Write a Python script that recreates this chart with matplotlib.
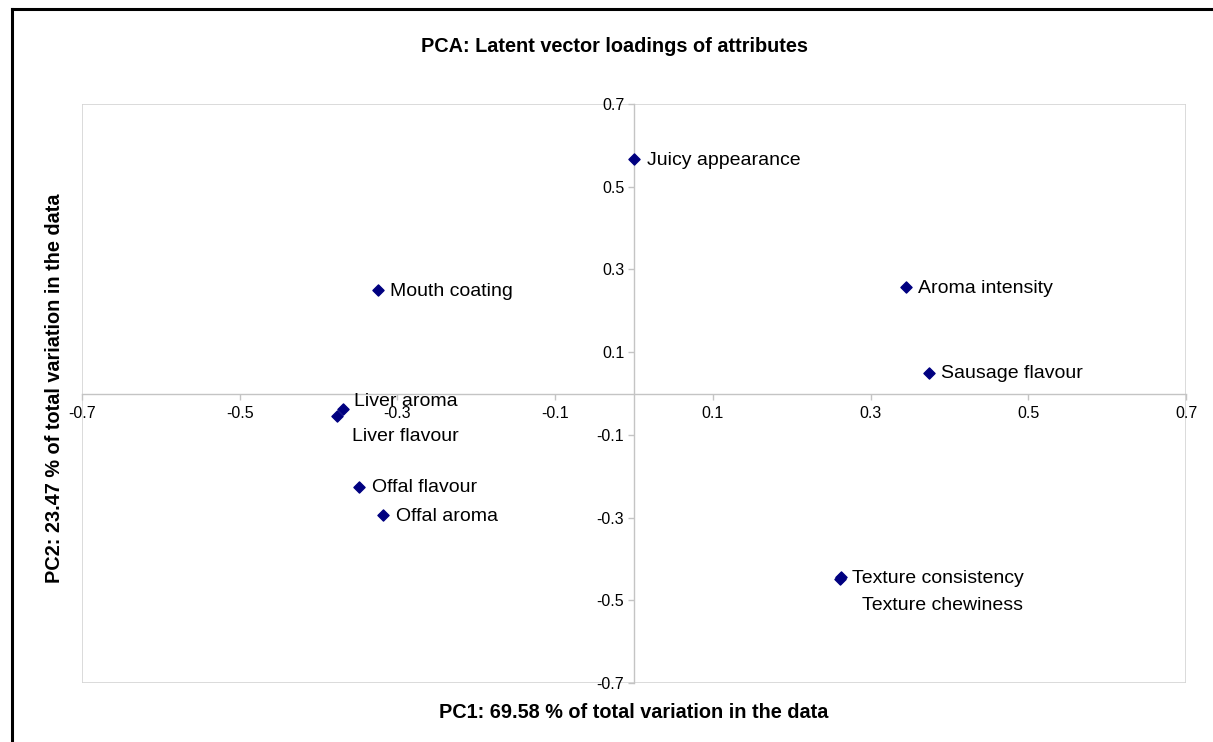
import matplotlib.pyplot as plt
from matplotlib.patches import Rectangle
from matplotlib.lines import Line2D

plt.rcParams['font.family'] = ['Liberation Sans', 'DejaVu Sans']

# PCA loadings
attributes = ["Juicy appearance", "Mouth coating", "Aroma intensity", "Sausage flavour",
              "Liver aroma", "Liver flavour", "Offal flavour", "Offal aroma",
              "Texture consistency", "Texture chewiness"]
pc1 = [0.000, -0.325, 0.345, 0.374, -0.369, -0.377, -0.349, -0.318, 0.262, 0.261]
pc2 = [0.567, 0.250, 0.257, 0.050, -0.037, -0.054, -0.226, -0.294, -0.444, -0.449]

# label offsets in pixels (Excel placed some labels away from the marker)
label_offsets = [(13, -1), (12, -1), (12, -1), (12, -1), (11, 7), (15, -21),
                 (13, -1), (13, -1), (11, -1), (22, -26)]

ticks = [-0.7, -0.5, -0.3, -0.1, 0.1, 0.3, 0.5, 0.7]

fig = plt.figure(figsize=(12.13, 7.42), dpi=100)
ax = fig.add_axes([82 / 1213, 1 - 683 / 742, 1104 / 1213, 579 / 742])

ax.scatter(pc1, pc2, marker='D', s=32, color='#000080', zorder=3)

for name, x, y, off in zip(attributes, pc1, pc2, label_offsets):
    ax.annotate(name, (x, y), xytext=off, textcoords='offset pixels',
                ha='left', va='center', fontsize=14, color='black', zorder=4)

ax.set_xlim(-0.7, 0.7)
ax.set_ylim(-0.7, 0.7)
ax.set_xticks(ticks)
ax.set_yticks(ticks)
ax.set_xticklabels([f"{t:g}" for t in ticks])
ax.set_yticklabels([f"{t:g}" for t in ticks])

# axes crossing at the origin
for side in ['left', 'bottom']:
    ax.spines[side].set_position('zero')
    ax.spines[side].set_color('#c4c4c4')
    ax.spines[side].set_linewidth(1)
for side in ['top', 'right']:
    ax.spines[side].set_visible(False)

ax.tick_params(axis='both', direction='out', length=4, width=1, color='#c4c4c4',
               labelsize=11.5, pad=3)
ax.tick_params(axis='x', pad=5)

# light grey plot-area frame
ax.add_patch(Rectangle((0, 0), 1, 1, transform=ax.transAxes, fill=False,
                       edgecolor='#d4d4d4', linewidth=1.2, zorder=0))

fig.text(614 / 1213, 1 - 46 / 742, "PCA: Latent vector loadings of attributes",
         ha='center', va='center', fontsize=14.3, fontweight='bold')
fig.text(634 / 1213, 1 - 713 / 742, "PC1: 69.58 % of total variation in the data",
         ha='center', va='center', fontsize=14.3, fontweight='bold')
fig.text(55 / 1213, 1 - 388 / 742, "PC2: 23.47 % of total variation in the data",
         ha='center', va='center', rotation=90, fontsize=14.3, fontweight='bold')

# black chart-area border (left and top edges visible)
fig.add_artist(Line2D([12 / 1213, 12 / 1213], [0, 1 - 9 / 742], color='black',
                      linewidth=2.2, transform=fig.transFigure))
fig.add_artist(Line2D([12 / 1213, 1], [1 - 9 / 742, 1 - 9 / 742], color='black',
                      linewidth=2.2, transform=fig.transFigure))

plt.savefig("out.png", dpi=100)
plt.close()
